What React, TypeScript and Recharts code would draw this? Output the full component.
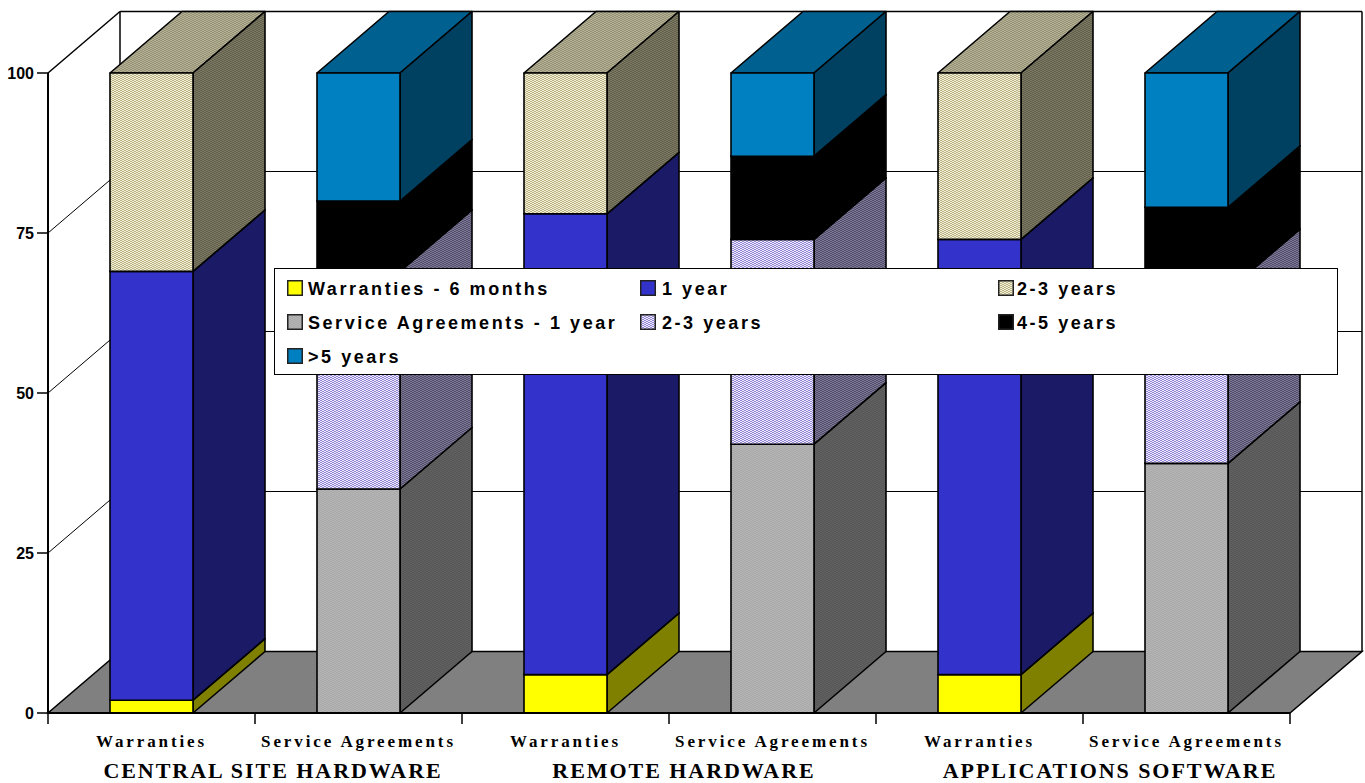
import { BarChart, Bar, XAxis, YAxis, CartesianGrid, Legend } from "recharts";

const categories = ["Warranties", "Service Agreements", "Warranties", "Service Agreements", "Warranties", "Service Agreements"];
const groupLabels = ["CENTRAL SITE HARDWARE", "", "REMOTE HARDWARE", "", "APPLICATIONS SOFTWARE", ""];
const yTicks = [0, 25, 50, 75, 100];

const warranty6m = [2, 0, 6, 0, 6, 0];
const warranty1y = [67, 0, 72, 0, 68, 0];
const warranty23y = [31, 0, 22, 0, 26, 0];
const service1y = [0, 35, 0, 42, 0, 39];
const service23y = [0, 34, 0, 32, 0, 27];
const service45y = [0, 11, 0, 13, 0, 13];
const service5y = [0, 20, 0, 13, 0, 21];

const data = categories.map((name, i) => ({
  name,
  warranty6m: warranty6m[i],
  warranty1y: warranty1y[i],
  warranty23y: warranty23y[i],
  service1y: service1y[i],
  service23y: service23y[i],
  service45y: service45y[i],
  service5y: service5y[i],
}));

// front / top / side fills of the extruded boxes
const series = [
  { key: "warranty6m", label: "Warranties - 6 months", front: "#ffff00", top: "#c0c000", side: "#808000" },
  { key: "warranty1y", label: "1 year", front: "#3333cc", top: "#26269a", side: "#1a1a66" },
  { key: "warranty23y", label: "2-3 years", front: "url(#beigeFront)", top: "url(#beigeTop)", side: "url(#beigeSide)" },
  { key: "service1y", label: "Service Agreements - 1 year", front: "url(#grayFront)", top: "#808080", side: "url(#graySide)" },
  { key: "service23y", label: "2-3 years", front: "url(#lavFront)", top: "url(#lavSide)", side: "url(#lavSide)" },
  { key: "service45y", label: "4-5 years", front: "#000000", top: "#000000", side: "#000000" },
  { key: "service5y", label: ">5 years", front: "#0080c0", top: "#006090", side: "#004060" },
];

const W = 1365;
const H = 783;
const LEFT = 48;
const TOP = 73;
const BOTTOM = 713;
const RIGHT_GAP = 75;
const BAND = (W - LEFT - RIGHT_GAP) / categories.length;
const DX = 72;
const DY = -61.5;

const groupDx = [18, 0, 15, 0, 27, 0];

// two-row brick stipple, reads as a fine weave at full size
const STIPPLE = ["1100", "0011"];

function Dither({ id, bg, fg }: { id: string; bg: string; fg: string }) {
  const cells: any[] = [];
  STIPPLE.forEach((row, y) => {
    row.split("").forEach((bit, x) => {
      if (bit === "1") cells.push(<rect key={x + "-" + y} x={x} y={y} width={1} height={1} fill={fg} />);
    });
  });
  return (
    <pattern id={id} width={4} height={2} patternUnits="userSpaceOnUse" shapeRendering="crispEdges">
      <rect width={4} height={2} fill={bg} />
      {cells}
    </pattern>
  );
}

function Box(props: any) {
  const { x, y, width, height, front, top, side } = props;
  if (!height || height <= 0) return null;
  const r = x + width;
  const b = y + height;
  return (
    <g stroke="#000" strokeWidth={1.6} strokeLinejoin="round">
      <polygon points={`${x},${y} ${r},${y} ${r + DX},${y + DY} ${x + DX},${y + DY}`} fill={top} />
      <polygon points={`${r},${y} ${r + DX},${y + DY} ${r + DX},${b + DY} ${r},${b}`} fill={side} />
      <rect x={x} y={y} width={width} height={height} fill={front} />
    </g>
  );
}

// back wall, left wall rungs and floor, hung off the grid's own y positions
function WallLine(props: any) {
  const { x1, x2, y1 } = props;
  const isFloor = y1 >= BOTTOM - 1;
  const isTop = y1 <= TOP + 1;
  return (
    <g>
      {isFloor && (
        <polygon
          points={`${x1},${y1} ${x2},${y1} ${x2 + DX},${y1 + DY} ${x1 + DX},${y1 + DY}`}
          fill="#808080"
          stroke="#000"
          strokeWidth={1.5}
        />
      )}
      {isTop && (
        <g stroke="#000" strokeWidth={1.5}>
          <line x1={x1 + DX} y1={y1 + DY} x2={x1 + DX} y2={BOTTOM + DY} />
          <line x1={x2 + DX} y1={y1 + DY} x2={x2 + DX} y2={BOTTOM + DY} />
        </g>
      )}
      {!isFloor && (
        <g stroke="#000" strokeWidth={isTop ? 1.5 : 1}>
          <line x1={x1} y1={y1} x2={x1 + DX} y2={y1 + DY} />
          <line x1={x1 + DX} y1={y1 + DY} x2={x2 + DX} y2={y1 + DY} />
        </g>
      )}
    </g>
  );
}

function CategoryTick(props: any) {
  const { x, index, payload } = props;
  const left = x - BAND / 2;
  return (
    <g>
      <line x1={left} y1={BOTTOM} x2={left} y2={724} stroke="#000" strokeWidth={1.5} />
      {index === categories.length - 1 && (
        <line x1={left + BAND} y1={BOTTOM} x2={left + BAND} y2={724} stroke="#000" strokeWidth={1.5} />
      )}
      <text
        x={x}
        y={747}
        textAnchor="middle"
        fontFamily="'Liberation Serif', serif"
        fontWeight="bold"
        fontSize={17}
        letterSpacing={2.9}
        fill="#000"
      >
        {payload.value}
      </text>
      {groupLabels[index] && (
        <text
          x={left + BAND + groupDx[index]}
          y={778}
          textAnchor="middle"
          fontFamily="'Liberation Serif', serif"
          fontWeight="bold"
          fontSize={22}
          letterSpacing={1.95}
          fill="#000"
        >
          {groupLabels[index]}
        </text>
      )}
    </g>
  );
}

const swatchCols = [287, 640, 998];
const textCols = [308, 662, 1017];
const legendRows = [288, 322, 356];

function LegendBox() {
  return (
    <div
      style={{
        position: "relative",
        width: 1064,
        height: 107,
        boxSizing: "border-box",
        background: "#fff",
        border: "1px solid #000",
      }}
    >
      {series.map((s, i) => {
        const row = legendRows[Math.floor(i / 3)];
        return (
          <div key={s.key}>
            <svg
              width={16}
              height={16}
              style={{ position: "absolute", left: swatchCols[i % 3] - 275, top: row - 8 - 269 }}
            >
              <rect x={0.75} y={0.75} width={14.5} height={14.5} fill={s.front} stroke="#222" strokeWidth={1.5} />
            </svg>
            <span
              style={{
                position: "absolute",
                left: textCols[i % 3] - 275,
                top: row - 10 - 269,
                fontFamily: "'Liberation Sans', sans-serif",
                fontWeight: "bold",
                fontSize: 18,
                lineHeight: "22px",
                letterSpacing: 2.55,
                whiteSpace: "nowrap",
                color: "#000",
              }}
            >
              {s.label}
            </span>
          </div>
        );
      })}
    </div>
  );
}

export default function App() {
  return (
    <div style={{ position: "absolute", left: 0, top: 0, width: W, height: H }}>
      <BarChart
        width={W}
        height={H}
        data={data}
        barSize={83}
        margin={{ top: TOP, right: RIGHT_GAP, bottom: 0, left: 0 }}
      >
        <defs>
          <Dither id="beigeFront" bg="#f2eed6" fg="#bbb486" />
          <Dither id="beigeTop" bg="#b4b092" fg="#96927a" />
          <Dither id="beigeSide" bg="#7c7a62" fg="#62604c" />
          <Dither id="lavFront" bg="#eeecfa" fg="#9486d6" />
          <Dither id="lavSide" bg="#7c7894" fg="#524e6c" />
          <Dither id="grayFront" bg="#b4b4b4" fg="#aaaaaa" />
          <Dither id="graySide" bg="#606060" fg="#585858" />
        </defs>
        <CartesianGrid vertical={false} horizontal={(p: any) => <WallLine key={p.key} {...p} />} />
        <XAxis
          dataKey="name"
          interval={0}
          height={70}
          tickLine={false}
          axisLine={{ stroke: "#000", strokeWidth: 2 }}
          tick={CategoryTick}
        />
        <YAxis
          width={LEFT}
          domain={[0, 100]}
          ticks={yTicks}
          interval={0}
          tickSize={11}
          tickMargin={3}
          tickLine={{ stroke: "#000", strokeWidth: 1.5 }}
          axisLine={{ stroke: "#000", strokeWidth: 2 }}
          tick={{ fill: "#000", fontFamily: "'Liberation Sans', sans-serif", fontWeight: "bold", fontSize: 16 }}
        />
        {series.map((s) => (
          <Bar
            key={s.key}
            dataKey={s.key}
            stackId="a"
            isAnimationActive={false}
            shape={(p: any) => <Box {...p} front={s.front} top={s.top} side={s.side} />}
          />
        ))}
        <Legend
          layout="horizontal"
          align="center"
          verticalAlign="middle"
          wrapperStyle={{ position: "absolute", left: 274, top: 268, width: 1064, height: 107, margin: 0 }}
          content={() => <LegendBox />}
        />
      </BarChart>
    </div>
  );
}
